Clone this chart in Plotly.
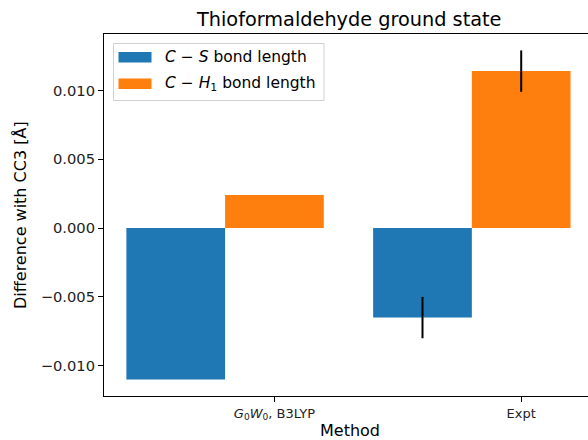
import plotly.graph_objects as go

# ---- data ----
methods = ["<i>G</i><sub>0</sub><i>W</i><sub>0</sub>, B3LYP", "Expt"]
cs_values = [-0.0110, -0.0065]
cs_errors = [0.0, 0.0015]
ch_values = [0.0024, 0.0114]
ch_errors = [0.0, 0.0015]
series_names = ["<i>C</i> − <i>S</i> bond length", "<i>C</i> − <i>H</i><sub>1</sub> bond length"]
y_ticks = [-0.010, -0.005, 0.000, 0.005, 0.010]

BAR_W = 0.4
FONT = "DejaVu Sans"
blue, orange = "#1f77b4", "#ff7f0e"

idx = list(range(len(methods)))
x_cs = [i for i in idx]
x_ch = [i + BAR_W for i in idx]

fig = go.Figure()
fig.add_trace(go.Bar(x=x_cs, y=cs_values, width=BAR_W, marker=dict(color=blue, line=dict(width=0)),
                     error_y=dict(type="data", array=cs_errors, color="black", thickness=2, width=0),
                     name=series_names[0], showlegend=False))
fig.add_trace(go.Bar(x=x_ch, y=ch_values, width=BAR_W, marker=dict(color=orange, line=dict(width=0)),
                     error_y=dict(type="data", array=ch_errors, color="black", thickness=2, width=0),
                     name=series_names[1], showlegend=False))

# plot area in pixels
W, H = 588, 440
L, R, T, B = 104, 588, 34, 396
def px(xp):
    return (xp - L) / (R - L)
def py(yp):
    return (B - yp) / (B - T)

shapes = []
annotations = []
# legend box
shapes.append(dict(type="rect", xref="paper", yref="paper", x0=px(113.5), x1=px(324), y0=py(100.5), y1=py(43.5),
                   line=dict(color="#d0d0d0", width=1), fillcolor="rgba(255,255,255,0.8)", layer="above"))
for k, (col, yc) in enumerate([(blue, 57.3), (orange, 83.8)]):
    shapes.append(dict(type="rect", xref="paper", yref="paper", x0=px(118.5), x1=px(151.5),
                       y0=py(yc + 5.3), y1=py(yc - 5.3), line=dict(width=0), fillcolor=col, layer="above"))
    annotations.append(dict(xref="paper", yref="paper", x=px(163), y=py(yc), xanchor="left", yanchor="middle",
                            text=series_names[k], showarrow=False, font=dict(family=FONT, size=15.5, color="black")))

# title
annotations.append(dict(xref="paper", yref="paper", x=px(348.7), y=py(19), xanchor="center", yanchor="middle",
                        text="Thioformaldehyde ground state", showarrow=False,
                        font=dict(family=FONT, size=19.3, color="black")))
# x label
annotations.append(dict(xref="paper", yref="paper", x=px(349.5), y=py(430.5), xanchor="center", yanchor="middle",
                        text="Method", showarrow=False, font=dict(family=FONT, size=16, color="black")))
# y label
annotations.append(dict(xref="paper", yref="paper", x=px(20), y=py(215), xanchor="center", yanchor="middle",
                        text="Difference with CC3 [Å]", textangle=-90, showarrow=False,
                        font=dict(family=FONT, size=16, color="black")))

fig.update_layout(
    width=W, height=H,
    margin=dict(l=L, r=W - R, t=T, b=H - B, pad=0),
    paper_bgcolor="white", plot_bgcolor="white",
    barmode="overlay", showlegend=False,
    shapes=shapes, annotations=annotations,
    font=dict(family=FONT, color="black"),
)
fig.update_xaxes(range=[-0.2907, 1.6707], tickvals=x_ch, ticktext=methods,
                 showline=True, linecolor="black", linewidth=1, mirror=True,
                 ticks="outside", ticklen=5, tickcolor="black", tickwidth=1,
                 showgrid=False, zeroline=False, tickfont=dict(family=FONT, size=13, color="#222"))
fig.update_yaxes(range=[-0.012195, 0.014095], tickvals=y_ticks, tickformat=".3f",
                 showline=True, linecolor="black", linewidth=1, mirror=False,
                 ticks="outside", ticklen=5, tickcolor="black", tickwidth=1,
                 showgrid=False, zeroline=False, tickfont=dict(family=FONT, size=14.7, color="#222"))

fig.write_html("out.html")
